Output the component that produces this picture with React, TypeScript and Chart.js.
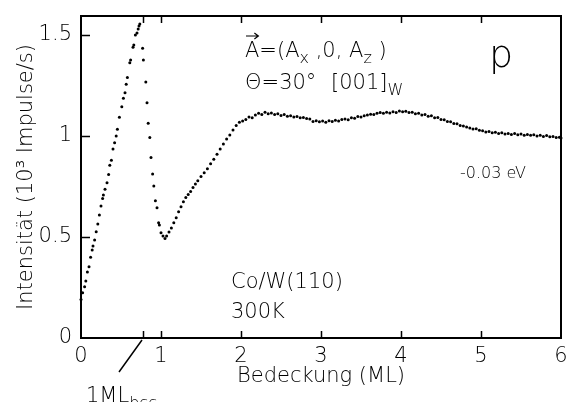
import React, { useEffect, useRef } from "react";
import { Chart, registerables } from "chart.js";

Chart.register(...registerables);

// Coverage (ML) and intensity (10^3 counts/s)
const coverage = [
  0.0, 0.02, 0.045, 0.06, 0.08, 0.1, 0.12, 0.14, 0.15, 0.17, 0.19, 0.21, 0.23, 0.25, 0.27, 0.28, 0.3, 0.325, 0.345, 0.36,
  0.38, 0.4, 0.42, 0.44, 0.455, 0.48, 0.51, 0.53, 0.55, 0.565, 0.58, 0.61, 0.62, 0.65, 0.66, 0.68, 0.7, 0.715, 0.725, 0.735,
  0.77, 0.78, 0.81, 0.825, 0.84, 0.86, 0.875, 0.895, 0.91, 0.93, 0.95, 0.97, 0.98, 1.0, 1.025, 1.05,
  1.07, 1.1, 1.13, 1.16, 1.19, 1.22, 1.25, 1.28, 1.31, 1.34, 1.37, 1.4, 1.43, 1.46, 1.5, 1.54, 1.58, 1.62, 1.66, 1.7,
  1.74, 1.78, 1.82, 1.86, 1.9, 1.94, 1.98,
  2.02, 2.06, 2.1, 2.14, 2.18, 2.22, 2.26, 2.3, 2.34, 2.38, 2.42, 2.46, 2.5, 2.54, 2.58, 2.62, 2.66, 2.7, 2.74, 2.78,
  2.82, 2.86, 2.9, 2.94, 2.98, 3.02, 3.06, 3.1, 3.14, 3.18, 3.22, 3.26, 3.3, 3.34, 3.38, 3.42, 3.46, 3.5, 3.54, 3.58,
  3.62, 3.66, 3.7, 3.74, 3.78, 3.82, 3.86, 3.9, 3.94, 3.98, 4.02, 4.06, 4.1, 4.14, 4.18, 4.22, 4.26, 4.3, 4.34, 4.38,
  4.42, 4.46, 4.5, 4.54, 4.58, 4.62, 4.66, 4.7, 4.74, 4.78, 4.82, 4.86, 4.9, 4.94, 4.98, 5.02, 5.06, 5.1, 5.14, 5.18,
  5.22, 5.26, 5.3, 5.34, 5.38, 5.42, 5.46, 5.5, 5.54, 5.58, 5.62, 5.66, 5.7, 5.74, 5.78, 5.82, 5.86, 5.9, 5.94, 5.98, 6.0,
];

const intensity = [
  0.19, 0.224, 0.254, 0.282, 0.327, 0.353, 0.4, 0.436, 0.455, 0.485, 0.526, 0.564, 0.609, 0.653, 0.69, 0.708, 0.736, 0.769, 0.809, 0.855,
  0.88, 0.936, 0.967, 1.0, 1.033, 1.093, 1.145, 1.187, 1.214, 1.256, 1.289, 1.363, 1.376, 1.439, 1.45, 1.5, 1.51, 1.53, 1.545, 1.555,
  1.434, 1.376, 1.267, 1.165, 1.063, 0.993, 0.894, 0.812, 0.752, 0.68, 0.645, 0.571, 0.559, 0.521, 0.505, 0.493,
  0.505, 0.525, 0.545, 0.57, 0.595, 0.625, 0.65, 0.675, 0.695, 0.71, 0.725, 0.745, 0.762, 0.778, 0.8, 0.818, 0.838, 0.862, 0.885, 0.91,
  0.935, 0.96, 0.985, 1.005, 1.03, 1.052, 1.068,
  1.074, 1.082, 1.094, 1.09, 1.104, 1.112, 1.106, 1.118, 1.11, 1.114, 1.106, 1.11, 1.102, 1.106, 1.098, 1.1, 1.094, 1.096, 1.09, 1.092,
  1.086, 1.084, 1.072, 1.076, 1.07, 1.074, 1.068, 1.076, 1.072, 1.078, 1.074, 1.082, 1.084, 1.08, 1.09, 1.088, 1.096, 1.094, 1.1, 1.104,
  1.108, 1.106, 1.112, 1.116, 1.112, 1.118, 1.114, 1.12, 1.116, 1.124, 1.12, 1.122, 1.116, 1.118, 1.11, 1.112, 1.104, 1.106, 1.098, 1.1,
  1.09, 1.092, 1.082, 1.08, 1.072, 1.07, 1.062, 1.06, 1.052, 1.05, 1.044, 1.04, 1.034, 1.036, 1.028, 1.026, 1.02, 1.022, 1.016, 1.018,
  1.012, 1.016, 1.01, 1.012, 1.008, 1.012, 1.006, 1.01, 1.004, 1.008, 1.004, 1.006, 1.0, 1.004, 0.998, 1.002, 0.996, 0.998, 0.992, 0.994, 0.99,
];

const xTicks = [0, 1, 2, 3, 4, 5, 6];
const yTicks = [0, 0.5, 1, 1.5];
const bccMark = 0.775;
const xTitle = "Bedeckung (ML)";
const yTitle = "Intensität (10³ Impulse/s)";

const FAMILY = '"DejaVu Sans", sans-serif';
const WEIGHT = "200";
const font = (size: number) => `${WEIGHT} ${size}px ${FAMILY}`;

type Seg = { t: string; size: number; dy?: number };

function drawSegs(ctx: CanvasRenderingContext2D, segs: Seg[], x: number, y: number) {
  let cx = x;
  for (const s of segs) {
    ctx.font = font(s.size);
    ctx.fillText(s.t, cx, y + (s.dy || 0));
    cx += ctx.measureText(s.t).width;
  }
  return cx;
}

const framePlugin = {
  id: "frame",
  afterDraw(chart: any) {
    const { ctx, chartArea: a, scales } = chart;
    const x = scales.x;
    const y = scales.y;
    ctx.save();
    ctx.strokeStyle = "#000";
    ctx.fillStyle = "#000";
    ctx.lineWidth = 2;
    ctx.strokeRect(a.left, a.top, a.right - a.left, a.bottom - a.top);

    ctx.lineWidth = 1.5;
    ctx.beginPath();
    for (const v of [...xTicks.slice(1, -1), bccMark]) {
      const px = Math.round(x.getPixelForValue(v)) + 0.5;
      ctx.moveTo(px, a.bottom);
      ctx.lineTo(px, a.bottom - 7);
      ctx.moveTo(px, a.top);
      ctx.lineTo(px, a.top + 7);
    }
    for (const v of yTicks.slice(1)) {
      const py = Math.round(y.getPixelForValue(v)) + 0.5;
      ctx.moveTo(a.left, py);
      ctx.lineTo(a.left + 9, py);
    }
    const bx = x.getPixelForValue(bccMark);
    ctx.moveTo(bx - 1, a.bottom + 2);
    ctx.lineTo(bx - 24, a.bottom + 34);
    ctx.stroke();

    ctx.textBaseline = "alphabetic";
    ctx.textAlign = "left";

    // vector A
    const ax0 = 245;
    const ay = 57;
    ctx.font = font(21);
    const aw = ctx.measureText("A").width;
    drawSegs(ctx, [
      { t: "A=(A", size: 21 },
      { t: "x", size: 16, dy: 6 },
      { t: " ,0, A", size: 21 },
      { t: "z", size: 16, dy: 6 },
      { t: " )", size: 21 },
    ], ax0, ay);
    ctx.lineWidth = 1.2;
    ctx.beginPath();
    ctx.moveTo(ax0 + 1, ay - 21);
    ctx.lineTo(ax0 + aw - 1, ay - 21);
    ctx.moveTo(ax0 + aw - 5, ay - 24);
    ctx.lineTo(ax0 + aw - 1, ay - 21);
    ctx.lineTo(ax0 + aw - 5, ay - 18);
    ctx.stroke();

    // angle / direction
    drawSegs(ctx, [{ t: "Θ=30°", size: 21 }], 245, 89);
    drawSegs(ctx, [
      { t: "[001]", size: 21 },
      { t: "W", size: 16, dy: 6 },
    ], 331, 89);

    // polarisation label
    ctx.font = font(38);
    ctx.fillText("p", 489, 67);

    // energy
    ctx.font = font(16);
    ctx.fillText("-0.03 eV", 460, 178);

    // sample
    ctx.font = font(21);
    ctx.fillText("Co/W(110)", 231, 288);
    ctx.fillText("300K", 231, 318);

    // 1 ML bcc
    drawSegs(ctx, [
      { t: "1ML", size: 21 },
      { t: "bcc", size: 16, dy: 6 },
    ], 86, 402);
    ctx.restore();
  },
};

export default function App() {
  const ref = useRef<HTMLCanvasElement | null>(null);

  useEffect(() => {
    if (!ref.current) return;
    const points = coverage.map((c, i) => ({ x: c, y: intensity[i] }));
    const tickFont = { family: FAMILY, size: 21, weight: WEIGHT };
    const chart = new Chart(ref.current, {
      type: "scatter",
      data: {
        datasets: [
          {
            data: points,
            backgroundColor: "#000",
            borderColor: "#000",
            pointRadius: 1.5,
            pointBorderWidth: 0,
            clip: 6,
          } as any,
        ],
      },
      options: {
        animation: false,
        responsive: false,
        devicePixelRatio: 1,
        layout: { padding: { top: 16, right: 5, left: 0, bottom: 0 } },
        plugins: { legend: { display: false }, tooltip: { enabled: false } },
        scales: {
          x: {
            type: "linear",
            min: 0,
            max: 6,
            afterBuildTicks: (s: any) => {
              s.ticks = xTicks.map((v) => ({ value: v }));
            },
            afterFit: (s: any) => {
              s.height = 64;
              s.paddingLeft = 0;
              s.paddingRight = 0;
            },
            ticks: { font: tickFont as any, color: "#000", padding: 6, maxRotation: 0, autoSkip: false, callback: (v: any) => String(v) },
            grid: { display: false, drawTicks: false },
            border: { display: false },
            title: { display: true, text: xTitle, font: tickFont as any, color: "#000", padding: { top: 0, bottom: 13 } },
          },
          y: {
            type: "linear",
            min: 0,
            max: 1.594,
            afterBuildTicks: (s: any) => {
              s.ticks = yTicks.map((v) => ({ value: v }));
            },
            afterFit: (s: any) => {
              s.width = 81;
              s.paddingTop = 0;
              s.paddingBottom = 0;
            },
            ticks: { font: tickFont as any, color: "#000", padding: 9, autoSkip: false, callback: (v: any) => String(v) },
            grid: { display: false, drawTicks: false },
            border: { display: false },
            title: { display: true, text: yTitle, font: tickFont as any, color: "#000", padding: { top: 14, bottom: 0 } },
          },
        },
      },
      plugins: [framePlugin],
    });
    return () => chart.destroy();
  }, []);

  return (
    <div style={{ position: "absolute", left: 0, top: 0, width: 566, height: 402, background: "#fff" }}>
      <canvas ref={ref} width={566} height={402} style={{ display: "block" }} />
    </div>
  );
}
